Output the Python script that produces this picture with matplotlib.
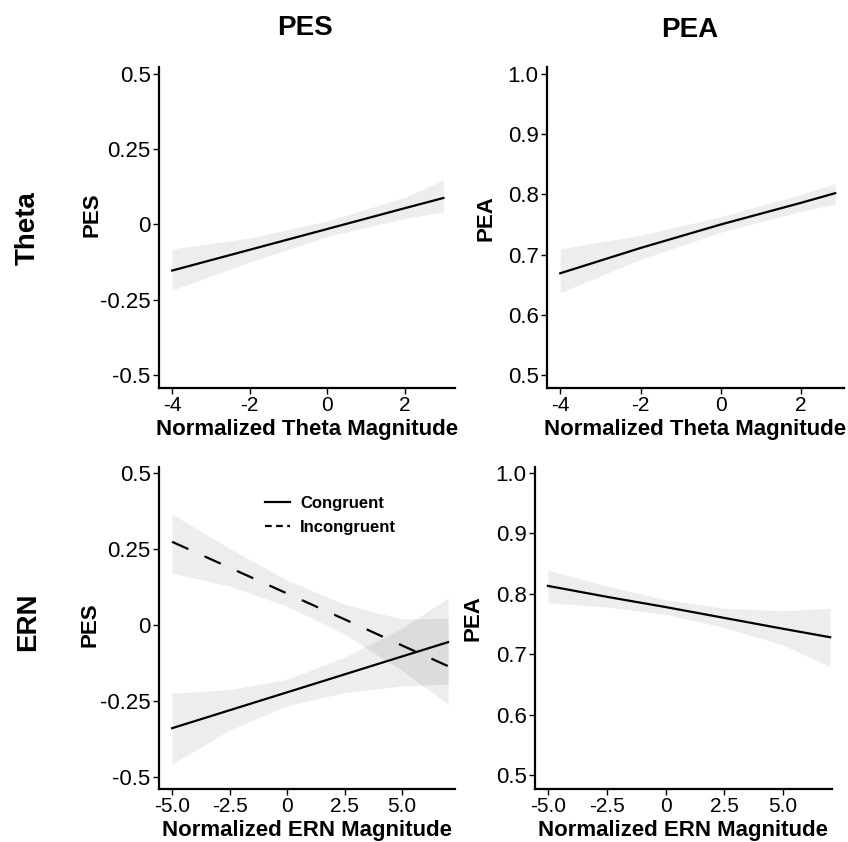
import numpy as np
import matplotlib
matplotlib.use('Agg')
import matplotlib.pyplot as plt

plt.rcParams['font.family'] = ['Liberation Sans', 'DejaVu Sans']

# Theta row: x values and fitted lines with confidence bands
theta_x = [-4, -2, 0, 2, 3]
theta_pes = [-0.153, -0.084, -0.015, 0.054, 0.088]
theta_pes_lo = [-0.218, -0.125, -0.040, 0.020, 0.042]
theta_pes_hi = [-0.081, -0.045, 0.012, 0.090, 0.148]

theta_x_pea = [-4, -2, 0, 2, 2.85]
theta_pea = [0.669, 0.711, 0.750, 0.786, 0.802]
theta_pea_lo = [0.637, 0.692, 0.737, 0.772, 0.784]
theta_pea_hi = [0.710, 0.732, 0.763, 0.800, 0.818]

# ERN row
ern_x = [-5, -2.5, 0, 2.5, 5, 7]
ern_pes_con = [-0.339, -0.280, -0.221, -0.162, -0.103, -0.056]
ern_pes_con_lo = [-0.457, -0.345, -0.265, -0.222, -0.200, -0.194]
ern_pes_con_hi = [-0.224, -0.212, -0.178, -0.105, -0.010, 0.089]
ern_pes_inc = [0.274, 0.189, 0.104, 0.019, -0.067, -0.135]
ern_pes_inc_lo = [0.171, 0.128, 0.062, -0.030, -0.150, -0.260]
ern_pes_inc_hi = [0.365, 0.252, 0.148, 0.068, 0.020, 0.023]

ern_pea = [0.813, 0.795, 0.778, 0.760, 0.742, 0.728]
ern_pea_lo = [0.785, 0.778, 0.766, 0.744, 0.715, 0.679]
ern_pea_hi = [0.839, 0.813, 0.790, 0.776, 0.772, 0.776]

pes_ticks = [-0.5, -0.25, 0, 0.25, 0.5]
pes_ticklabels = ['-0.5', '-0.25', '0', '0.25', '0.5']
pea_ticks = [0.5, 0.6, 0.7, 0.8, 0.9, 1.0]
pea_ticklabels = ['0.5', '0.6', '0.7', '0.8', '0.9', '1.0']
theta_xticks = [-4, -2, 0, 2]
theta_xticklabels = ['-4', '-2', '0', '2']
ern_xticks = [-5, -2.5, 0, 2.5, 5]
ern_xticklabels = ['-5.0', '-2.5', '0', '2.5', '5.0']

W, H = 848, 842
fig = plt.figure(figsize=(W / 100, H / 100), dpi=100)


def axes_px(left, top, right, bottom):
    return fig.add_axes([left / W, 1 - bottom / H, (right - left) / W, (bottom - top) / H])


band_color = '#000000'
band_alpha = 0.07
xtick_fs = 15
ytick_fs = 16
label_fs = 16


def style(ax, xticks, xticklabels, yticks, yticklabels, xlabel, ylabel,
          xpad, xlab_y, ylab_x, ylab_y):
    for s in ['top', 'right']:
        ax.spines[s].set_visible(False)
    for s in ['left', 'bottom']:
        ax.spines[s].set_linewidth(1.6)
    ax.set_xticks(xticks)
    ax.set_xticklabels(xticklabels, fontsize=xtick_fs)
    ax.set_yticks(yticks)
    ax.set_yticklabels(yticklabels, fontsize=ytick_fs)
    ax.tick_params(length=4, width=1)
    ax.tick_params(axis='x', pad=xpad)
    ax.tick_params(axis='y', pad=2)
    ax.set_xlabel(xlabel, fontsize=label_fs, fontweight='bold', va='center')
    ax.xaxis.set_label_coords(0.5, xlab_y)
    ax.set_ylabel(ylabel, fontsize=label_fs, fontweight='bold', va='center')
    ax.yaxis.set_label_coords(ylab_x, ylab_y)


# Top left: Theta vs PES
ax1 = axes_px(159, 67, 455, 388)
ax1.fill_between(theta_x, theta_pes_lo, theta_pes_hi, color=band_color, alpha=band_alpha, lw=0)
ax1.plot(theta_x, theta_pes, color='black', lw=1.6)
ax1.set_xlim(-4.34, 3.3)
ax1.set_ylim(-0.543, 0.523)
style(ax1, theta_xticks, theta_xticklabels, pes_ticks, pes_ticklabels,
      'Normalized Theta Magnitude', 'PES', 2, -0.13, -0.226, 0.54)

# Top right: Theta vs PEA
ax2 = axes_px(547, 67, 844, 388)
ax2.fill_between(theta_x_pea, theta_pea_lo, theta_pea_hi, color=band_color, alpha=band_alpha, lw=0)
ax2.plot(theta_x_pea, theta_pea, color='black', lw=1.6)
ax2.set_xlim(-4.33, 3.07)
ax2.set_ylim(0.4785, 1.0115)
style(ax2, theta_xticks, theta_xticklabels, pea_ticks, pea_ticklabels,
      'Normalized Theta Magnitude', 'PEA', 2, -0.13, -0.207, 0.53)

# Bottom left: ERN vs PES
ax3 = axes_px(159, 467, 455, 789)
ax3.fill_between(ern_x, ern_pes_con_lo, ern_pes_con_hi, color=band_color, alpha=band_alpha, lw=0)
ax3.fill_between(ern_x, ern_pes_inc_lo, ern_pes_inc_hi, color=band_color, alpha=band_alpha, lw=0)
ax3.plot(ern_x, ern_pes_con, color='black', lw=1.6, label='Congruent')
ax3.plot(ern_x, ern_pes_inc, color='black', lw=1.6, ls=(0, (8, 8)), label='Incongruent')
ax3.set_xlim(-5.57, 7.3)
ax3.set_ylim(-0.539, 0.520)
style(ax3, ern_xticks, ern_xticklabels, pes_ticks, pes_ticklabels,
      'Normalized ERN Magnitude', 'PES', 2, -0.128, -0.233, 0.51)
leg = ax3.legend(loc='upper left', bbox_to_anchor=(0.33, 0.935), frameon=False,
                 prop={'weight': 'bold', 'size': 12}, handlelength=1.5,
                 handletextpad=0.6, labelspacing=0.5, borderpad=0)
leg.get_lines()[1].set_dashes((3, 2))

# Bottom right: ERN vs PEA
ax4 = axes_px(535, 467, 832, 789)
ax4.fill_between(ern_x, ern_pea_lo, ern_pea_hi, color=band_color, alpha=band_alpha, lw=0)
ax4.plot(ern_x, ern_pea, color='black', lw=1.6)
ax4.set_xlim(-5.55, 7.08)
ax4.set_ylim(0.4767, 1.0099)
style(ax4, ern_xticks, ern_xticklabels, pea_ticks, pea_ticklabels,
      'Normalized ERN Magnitude', 'PEA', 2, -0.128, -0.209, 0.53)

# Column and row headers
fig.text(305 / W, 1 - 28 / H, 'PES', fontsize=20, fontweight='bold', ha='center', va='center')
fig.text(690 / W, 1 - 30 / H, 'PEA', fontsize=20, fontweight='bold', ha='center', va='center')
fig.text(28 / W, 1 - 228 / H, 'Theta', fontsize=20, fontweight='bold', ha='center', va='center', rotation=90)
fig.text(28 / W, 1 - 622 / H, 'ERN', fontsize=20, fontweight='bold', ha='center', va='center', rotation=90)

fig.savefig('out.png', dpi=100)
